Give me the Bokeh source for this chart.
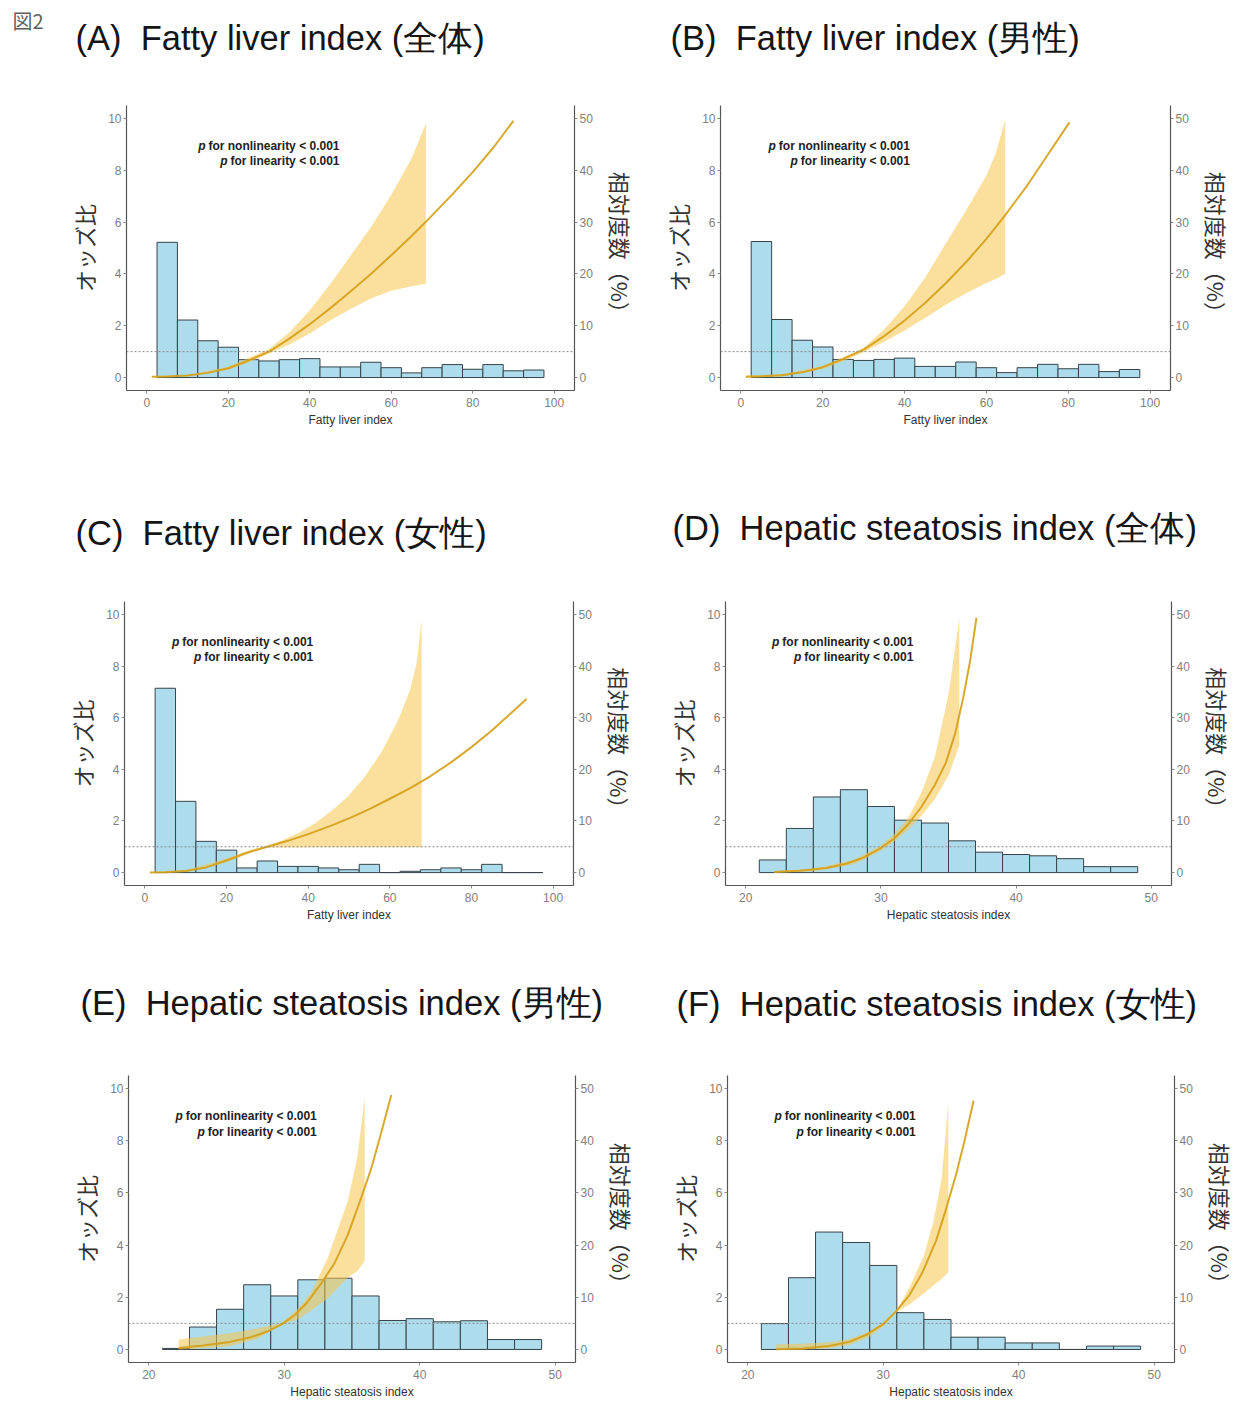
from bokeh.plotting import figure
from bokeh.models import Range1d, LinearAxis, Span, FixedTicker
from bokeh.layouts import column, row
from bokeh.embed import file_html
from bokeh.resources import INLINE
from bokeh.core.properties import value

# ---------------- data ----------------
fli_edges = [2.5, 7.5, 12.5, 17.5, 22.5, 27.5, 32.5, 37.5, 42.5, 47.5, 52.5,
             57.5, 62.5, 67.5, 72.5, 77.5, 82.5, 87.5, 92.5, 97.5]
hsi_edges = [21, 23, 25, 27, 29, 31, 33, 35, 37, 39, 41, 43, 45, 47, 49]

# relative frequency (%) per bin
freq_A = [26.1, 11.1, 7.1, 5.85, 3.45, 3.2, 3.45, 3.65, 2.05, 2.05, 2.95, 1.9, 0.9, 1.9, 2.5, 1.6, 2.5, 1.3, 1.45]
freq_B = [26.25, 11.2, 7.2, 5.9, 3.5, 3.3, 3.5, 3.75, 2.15, 2.15, 3.0, 1.9, 0.95, 1.9, 2.55, 1.7, 2.55, 1.15, 1.55]
freq_C = [35.7, 13.8, 6.05, 4.35, 0.9, 2.25, 1.2, 1.2, 0.9, 0.55, 1.6, 0.0, 0.25, 0.55, 0.9, 0.55, 1.6, 0.0, 0.0]
freq_D = [2.45, 8.55, 14.65, 16.05, 12.8, 10.15, 9.6, 6.15, 3.95, 3.5, 3.25, 2.7, 1.15, 1.15]
freq_E = [0.2, 4.3, 7.7, 12.4, 10.25, 13.35, 13.65, 10.25, 5.55, 5.9, 5.3, 5.5, 1.9, 1.9]
freq_F = [4.95, 13.75, 22.5, 20.5, 16.1, 7.05, 5.75, 2.35, 2.35, 1.25, 1.25, 0.0, 0.65, 0.65]

# odds ratio curves (spline estimate) and 95% CI
or_x_A = [1.2, 5, 10, 15, 20, 25, 30, 35, 40, 45, 50, 55, 60, 65, 68.5, 75, 80, 85, 90]
or_y_A = [0.03, 0.04, 0.08, 0.18, 0.36, 0.66, 1.0, 1.5, 2.06, 2.67, 3.32, 4.0, 4.72, 5.46, 6.01, 7.07, 7.93, 8.86, 9.91]
ci_x_A = [1.2, 10, 20, 25, 30, 35, 40, 45, 50, 55, 60, 65, 68.5]
ci_lo_A = [0.0, 0.06, 0.30, 0.58, 0.93, 1.28, 1.7, 2.2, 2.65, 3.05, 3.35, 3.52, 3.62]
ci_hi_A = [0.06, 0.10, 0.42, 0.76, 1.1, 1.75, 2.6, 3.6, 4.7, 5.8, 7.05, 8.45, 9.8]

or_x_B = [1.2, 5, 10, 15, 20, 25, 30, 35, 40, 45, 50, 55, 60, 64.6, 70, 75, 80.3]
or_y_B = [0.03, 0.05, 0.09, 0.2, 0.4, 0.72, 1.08, 1.6, 2.2, 2.88, 3.63, 4.45, 5.35, 6.27, 7.42, 8.6, 9.85]
ci_x_B = [1.2, 10, 20, 25, 30, 35, 40, 45, 50, 55, 60, 62.3, 64.6]
ci_lo_B = [0.0, 0.05, 0.33, 0.62, 0.98, 1.38, 1.82, 2.3, 2.8, 3.25, 3.65, 3.8, 4.01]
ci_hi_B = [0.08, 0.13, 0.45, 0.78, 1.15, 1.85, 2.75, 3.85, 5.15, 6.45, 7.8, 8.66, 9.96]

or_x_C = [1.2, 5, 10, 15, 20, 25, 30, 35, 40, 45, 50, 55, 60, 65, 70, 75, 80, 85, 90, 93.5]
or_y_C = [0.0, 0.01, 0.06, 0.2, 0.47, 0.77, 1.0, 1.23, 1.49, 1.78, 2.1, 2.46, 2.86, 3.27, 3.74, 4.27, 4.86, 5.5, 6.22, 6.72]
ci_x_C = [1.2, 10, 20, 25, 29.4, 33.5, 37.6, 41.6, 45.7, 49.8, 53.9, 58, 62, 64.9, 66.5, 67.8]
ci_lo_C = [0.0, 0.03, 0.4, 0.72, 0.96, 0.97, 0.97, 0.98, 0.98, 0.98, 0.98, 0.98, 0.98, 0.98, 0.98, 0.98]
ci_hi_C = [0.03, 0.09, 0.55, 0.84, 1.02, 1.24, 1.53, 1.90, 2.39, 2.96, 3.72, 4.68, 5.89, 7.04, 8.06, 9.78]

or_x_D = [22.1, 24, 26, 27.5, 28.7, 30, 31, 32, 33, 34, 34.8, 35.5, 36.1, 36.6, 37.07]
or_y_D = [0.02, 0.07, 0.18, 0.35, 0.58, 0.95, 1.33, 1.86, 2.55, 3.4, 4.25, 5.4, 6.8, 8.2, 9.87]
ci_x_D = [22.1, 25, 28, 30, 31, 32, 33, 34, 35, 35.8]
ci_lo_D = [0.0, 0.05, 0.32, 0.85, 1.2, 1.65, 2.2, 2.85, 3.75, 4.92]
ci_hi_D = [0.06, 0.15, 0.5, 1.05, 1.5, 2.1, 3.1, 4.5, 6.9, 9.87]

or_x_E = [22.2, 24, 26, 27.6, 28.8, 29.8, 30.8, 31.7, 32.7, 33.7, 34.7, 35.6, 36.4, 37.1, 37.9]
or_y_E = [0.06, 0.15, 0.29, 0.48, 0.70, 0.96, 1.33, 1.81, 2.51, 3.3, 4.4, 5.7, 6.9, 8.2, 9.75]
ci_x_E = [22.2, 24, 26, 28, 29.8, 31, 32, 33.2, 34.7, 35.4, 35.94]
ci_lo_E = [0.0, 0.05, 0.12, 0.4, 0.96, 1.15, 1.5, 1.95, 2.76, 3.01, 3.39]
ci_hi_E = [0.38, 0.5, 0.62, 0.8, 1.02, 1.55, 2.2, 3.5, 5.7, 7.4, 9.66]

or_x_F = [22.1, 24.1, 26.0, 27.5, 28.7, 30.0, 30.9, 31.9, 32.9, 33.9, 34.6, 35.4, 36.0, 36.67]
or_y_F = [0.01, 0.04, 0.13, 0.29, 0.55, 0.97, 1.44, 2.06, 2.96, 4.17, 5.32, 6.75, 8.0, 9.54]
ci_x_F = [22.1, 24, 26, 27.5, 29, 30, 31.04, 32, 33, 33.7, 34.3, 34.8]
ci_lo_F = [0.0, 0.0, 0.05, 0.17, 0.5, 0.88, 1.45, 1.75, 2.15, 2.45, 2.7, 2.96]
ci_hi_F = [0.2, 0.22, 0.28, 0.4, 0.68, 1.05, 1.52, 2.45, 3.6, 4.9, 6.5, 9.45]

titles = ["(A)\u00a0 Fatty liver index (全体)", "(B)\u00a0 Fatty liver index (男性)",
          "(C)\u00a0 Fatty liver index (女性)", "(D)\u00a0 Hepatic steatosis index (全体)",
          "(E)\u00a0 Hepatic steatosis index (男性)", "(F)\u00a0 Hepatic steatosis index (女性)"]
fig_label = "図2"
x_titles = ["Fatty liver index"] * 3 + ["Hepatic steatosis index"] * 3
p_lines = ["for nonlinearity < 0.001", "for linearity < 0.001"]
left_ticks = [0, 2, 4, 6, 8, 10]
right_ticks = [0, 10, 20, 30, 40, 50]
fli_ticks = [0, 20, 40, 60, 80, 100]
hsi_ticks = [20, 30, 40, 50]

# ---------------- styling / layout ----------------
BAR_FILL = "#ADDCEC"
BAR_LINE = "#36434a"
BAND = "#F8C54A"
LINE = "#D4A017"
SANS = "Liberation Sans"
CJK = "Noto Sans CJK JP"

COL_X = [0, 640]
COL_W = [640, 615]
# (title strip top, plot top, plot bottom) per row, page px
ROWS = [(0, 60, 470), (470, 560, 945), (945, 1035, 1412)]

# min borders (l, r, t, b) of each plot canvas
borders = [
    (126, 66, 43, 80), (80, 85, 45, 77),
    (124, 67, 38, 60), (85, 84, 41, 57),
    (128, 62, 40, 47), (87, 81, 39, 50),
]
# title anchor (page coords: left x, centre y)
title_pos = [(75, 37), (670, 37), (75, 532), (672, 527), (80, 1002), (676, 1003)]


def make_title(i):
    c, r = i % 2, i // 2
    x0, w = COL_X[c], COL_W[c]
    t0, t1 = ROWS[r][0], ROWS[r][1]
    t = figure(width=w, height=t1 - t0, x_range=Range1d(x0, x0 + w), y_range=Range1d(t1, t0),
               output_backend="svg", toolbar_location=None, min_border=0,
               x_axis_type=None, y_axis_type=None)
    t.grid.visible = False
    t.outline_line_color = None
    t.background_fill_color = "white"
    t.border_fill_color = "white"
    tx, ty = title_pos[i]
    t.text(x=[tx], y=[ty], text=[titles[i]], text_align="left", text_baseline="middle",
           text_font=value(SANS), text_font_size="34.5px", text_color="#151515")
    if i == 0:
        t.text(x=[12], y=[20], text=[fig_label], text_align="left", text_baseline="middle",
               text_font=value(CJK), text_font_size="20px", text_color="#606060")
    return t


def make_panel(i, edges, freq, ox_, oy_, cx, clo, chi, xr, xticks, p_x):
    c, r = i % 2, i // 2
    ml, mr, mt, mb = borders[i]
    p = figure(width=COL_W[c], height=ROWS[r][2] - ROWS[r][1],
               x_range=Range1d(*xr), y_range=Range1d(-0.5, 10.5),
               output_backend="svg", toolbar_location=None,
               min_border_left=ml, min_border_right=mr,
               min_border_top=mt, min_border_bottom=mb)
    p.extra_y_ranges = {"pct": Range1d(-2.5, 52.5)}
    p.grid.visible = False
    p.outline_line_color = None
    p.background_fill_color = "white"
    p.border_fill_color = "white"

    right = LinearAxis(y_range_name="pct")
    p.add_layout(right, "right")

    for ax in [p.xaxis[0], p.yaxis[0], right]:
        ax.axis_line_color = "#555555"
        ax.axis_line_width = 1.2
        ax.major_tick_line_color = "#888888"
        ax.major_tick_out = 3
        ax.major_tick_in = 0
        ax.minor_tick_line_color = None
        ax.major_label_text_color = "#808080"
        ax.major_label_text_font = SANS
        ax.major_label_text_font_size = "12px"
        ax.major_label_standoff = 2
        ax.axis_label_text_font_style = "normal"
        ax.axis_label_text_color = "#333333"

    p.yaxis[0].ticker = FixedTicker(ticks=left_ticks)
    right.ticker = FixedTicker(ticks=right_ticks)
    p.xaxis[0].ticker = FixedTicker(ticks=xticks)
    p.xaxis[0].major_label_standoff = 4

    p.yaxis[0].axis_label = "オッズ比"
    p.yaxis[0].axis_label_text_font = CJK
    p.yaxis[0].axis_label_text_font_size = "22px"
    p.yaxis[0].axis_label_standoff = 5

    right.axis_label = "相対度数（%）"
    right.axis_label_text_font = CJK
    right.axis_label_text_font_size = "22px"
    right.axis_label_standoff = 9

    p.xaxis[0].axis_label = x_titles[i]
    p.xaxis[0].axis_label_text_font = SANS
    p.xaxis[0].axis_label_text_font_size = "12px"
    p.xaxis[0].axis_label_standoff = 3

    # histogram (right axis, %)
    p.quad(left=edges[:-1], right=edges[1:], bottom=[0] * len(freq), top=freq,
           y_range_name="pct", fill_color=BAR_FILL, line_color=BAR_LINE, line_width=1)

    # reference line OR = 1
    p.add_layout(Span(location=1, dimension="width", line_color="#8a8a8a",
                      line_dash="2 2", line_width=1))

    # CI band and spline
    p.varea(x=cx, y1=clo, y2=chi, fill_color=BAND, fill_alpha=0.55)
    p.line(ox_, oy_, line_color=LINE, line_width=2, line_alpha=0.9)

    # p-value annotation
    ys = [8.95, 8.35]
    offs = [-134, -112]
    for k in range(2):
        p.text(x=[p_x], y=[ys[k]], text=[p_lines[k]], text_align="right", text_baseline="middle",
               text_font=value(SANS), text_font_style="bold", text_font_size="12px",
               text_color="#222222")
        p.text(x=[p_x], y=[ys[k]], text=["p"], x_offset=offs[k], text_align="right",
               text_baseline="middle", text_font=value(SANS), text_font_style="bold italic",
               text_font_size="12px", text_color="#222222")
    return p


pA = make_panel(0, fli_edges, freq_A, or_x_A, or_y_A, ci_x_A, ci_lo_A, ci_hi_A, (-5, 105), fli_ticks, 47.3)
pB = make_panel(1, fli_edges, freq_B, or_x_B, or_y_B, ci_x_B, ci_lo_B, ci_hi_B, (-5, 105), fli_ticks, 41.3)
pC = make_panel(2, fli_edges, freq_C, or_x_C, or_y_C, ci_x_C, ci_lo_C, ci_hi_C, (-5, 105), fli_ticks, 41.25)
pD = make_panel(3, hsi_edges, freq_D, or_x_D, or_y_D, ci_x_D, ci_lo_D, ci_hi_D, (18.5, 51.5), hsi_ticks, 32.4)
pE = make_panel(4, hsi_edges, freq_E, or_x_E, or_y_E, ci_x_E, ci_lo_E, ci_hi_E, (18.5, 51.5), hsi_ticks, 32.4)
pF = make_panel(5, hsi_edges, freq_F, or_x_F, or_y_F, ci_x_F, ci_lo_F, ci_hi_F, (18.5, 51.5), hsi_ticks, 32.4)

tA, tB, tC, tD, tE, tF = [make_title(i) for i in range(6)]

layout = column(row(tA, tB), row(pA, pB), row(tC, tD), row(pC, pD), row(tE, tF), row(pE, pF))
open("out.html", "w").write(file_html(layout, INLINE))
